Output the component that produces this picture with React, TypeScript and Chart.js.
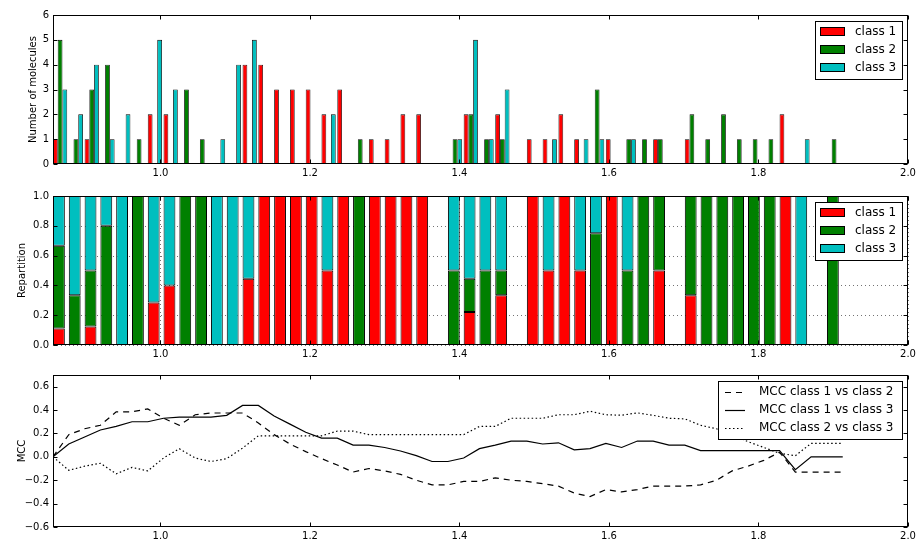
import React, { useEffect, useRef } from 'react';
import { Chart, registerables } from 'chart.js';

Chart.register(...registerables);

// ---------------- data ----------------
const binEdges = [
  0.8562, 0.8773, 0.8985, 0.9196, 0.9407, 0.9619, 0.983, 1.0041, 1.0252, 1.0464,
  1.0675, 1.0886, 1.1098, 1.1309, 1.152, 1.1732, 1.1943, 1.2154, 1.2365, 1.2577,
  1.2788, 1.2999, 1.3211, 1.3422, 1.3633, 1.3845, 1.4056, 1.4267, 1.4478, 1.469,
  1.4901, 1.5112, 1.5324, 1.5535, 1.5746, 1.5958, 1.6169, 1.638, 1.6591, 1.6803,
  1.7014, 1.7225, 1.7437, 1.7648, 1.7859, 1.8071, 1.8282, 1.8493, 1.8704, 1.8916,
  1.9127,
];

const class1Counts = [
  1, 0, 1, 0, 0, 0, 2, 2, 0, 0,
  0, 0, 4, 4, 3, 3, 3, 2, 3, 0,
  1, 1, 2, 2, 0, 0, 2, 0, 2, 0,
  1, 1, 2, 1, 0, 1, 0, 0, 1, 0,
  1, 0, 0, 0, 0, 0, 2, 0, 0, 0,
];
const class2Counts = [
  5, 1, 3, 4, 0, 1, 0, 0, 3, 1,
  0, 0, 0, 0, 0, 0, 0, 0, 0, 1,
  0, 0, 0, 0, 0, 1, 2, 1, 1, 0,
  0, 0, 0, 0, 3, 0, 1, 1, 1, 0,
  2, 1, 2, 1, 1, 1, 0, 0, 0, 1,
];
const class3Counts = [
  3, 2, 4, 1, 2, 0, 5, 3, 0, 0,
  1, 4, 5, 0, 0, 0, 0, 2, 0, 0,
  0, 0, 0, 0, 0, 1, 5, 1, 3, 0,
  0, 1, 0, 1, 1, 0, 1, 0, 0, 0,
  0, 0, 0, 0, 0, 0, 0, 1, 0, 0,
];

const mcc12 = [
  0, 0.19, 0.24, 0.27, 0.385, 0.385, 0.41, 0.33, 0.27, 0.36,
  0.375, 0.375, 0.375, 0.29, 0.19, 0.11, 0.045, -0.015, -0.07, -0.13,
  -0.1, -0.12, -0.15, -0.2, -0.24, -0.24, -0.21, -0.21, -0.18, -0.2,
  -0.21, -0.23, -0.25, -0.31, -0.34, -0.28, -0.3, -0.28, -0.25, -0.25,
  -0.25, -0.24, -0.2, -0.12, -0.08, -0.03, 0.04, -0.13, -0.13, -0.13,
  -0.13,
];
const mcc13 = [
  0, 0.11, 0.17, 0.23, 0.26, 0.3, 0.3, 0.33, 0.34, 0.34,
  0.34, 0.355, 0.44, 0.44, 0.35, 0.28, 0.21, 0.16, 0.16, 0.1,
  0.1, 0.08, 0.05, 0.01, -0.04, -0.04, -0.01, 0.07, 0.1, 0.135,
  0.135, 0.11, 0.12, 0.06, 0.07, 0.115, 0.08, 0.135, 0.135, 0.1,
  0.1, 0.053, 0.053, 0.053, 0.053, 0.053, 0.053, -0.11, 0, 0,
  0,
];
const mcc23 = [
  0, -0.115, -0.08, -0.055, -0.145, -0.09, -0.12, -0.01, 0.07, -0.01,
  -0.04, -0.015, 0.075, 0.18, 0.18, 0.18, 0.18, 0.18, 0.22, 0.22,
  0.19, 0.19, 0.19, 0.19, 0.19, 0.19, 0.19, 0.26, 0.26, 0.33,
  0.33, 0.33, 0.36, 0.36, 0.39, 0.36, 0.356, 0.376, 0.355, 0.33,
  0.325, 0.27, 0.24, 0.19, 0.13, 0.08, 0.03, 0.01, 0.115, 0.115,
  0.115,
];

const classLabels = ['class 1', 'class 2', 'class 3'];
const mccLabels = ['MCC class 1 vs class 2', 'MCC class 1 vs class 3', 'MCC class 2 vs class 3'];

const xTicks = [1.0, 1.2, 1.4, 1.6, 1.8, 2.0];
const countTicks = [0, 1, 2, 3, 4, 5, 6];
const fracTicks = [0, 0.2, 0.4, 0.6, 0.8, 1.0];
const mccTicks = [-0.6, -0.4, -0.2, 0, 0.2, 0.4, 0.6];

const X_MIN = 0.8562;
const X_MAX = 2.0;

// ---------------- styles ----------------
const RED = '#ff0000';
const GREEN = '#008000';
const CYAN = '#00bfbf';
const FONT = '"DejaVu Sans", "Bitstream Vera Sans", sans-serif';
const W = 917;

const fmt1 = (v: number) => {
  const s = Math.abs(v).toFixed(1);
  return v < -1e-9 ? '\u2212' + s : s;
};

// matplotlib-like axes decorations: grid, frame, inward ticks, boxed legend
const mplPlugin = {
  id: 'mpl',
  beforeDatasetsDraw(chart: any, _args: any, opts: any) {
    if (!opts || !opts.grid) return;
    const { ctx, chartArea: a, scales } = chart;
    const x = scales.x;
    const y = scales.y;
    ctx.save();
    ctx.strokeStyle = 'rgba(0,0,0,0.55)';
    ctx.lineWidth = 1;
    ctx.setLineDash([1, 3]);
    y.ticks.forEach((t: any) => {
      const py = Math.round(y.getPixelForValue(t.value)) + 0.5;
      ctx.beginPath();
      ctx.moveTo(a.left, py);
      ctx.lineTo(a.right, py);
      ctx.stroke();
    });
    x.ticks.forEach((t: any) => {
      const px = Math.round(x.getPixelForValue(t.value)) + 0.5;
      ctx.beginPath();
      ctx.moveTo(px, a.top);
      ctx.lineTo(px, a.bottom);
      ctx.stroke();
    });
    ctx.restore();
  },
  afterDraw(chart: any, _args: any, opts: any) {
    const { ctx, chartArea: a, scales } = chart;
    const x = scales.x;
    const y = scales.y;
    const L = Math.round(a.left) + 0.5;
    const R = Math.round(a.right) - 0.5;
    const T = Math.round(a.top) + 0.5;
    const B = Math.round(a.bottom) - 0.5;
    ctx.save();
    ctx.strokeStyle = '#000';
    ctx.lineWidth = 1;
    ctx.setLineDash([]);
    const tl = 4;
    x.ticks.forEach((t: any) => {
      const px = Math.round(x.getPixelForValue(t.value)) + 0.5;
      ctx.beginPath();
      ctx.moveTo(px, B);
      ctx.lineTo(px, B - tl);
      ctx.moveTo(px, T);
      ctx.lineTo(px, T + tl);
      ctx.stroke();
    });
    y.ticks.forEach((t: any) => {
      const py = Math.round(y.getPixelForValue(t.value)) + 0.5;
      ctx.beginPath();
      ctx.moveTo(L, py);
      ctx.lineTo(L + tl, py);
      ctx.moveTo(R, py);
      ctx.lineTo(R - tl, py);
      ctx.stroke();
    });
    ctx.strokeRect(L, T, R - L, B - T);

    if (opts && opts.legend) {
      const kind = opts.legend;
      const ds = chart.data.datasets;
      ctx.font = `12px ${FONT}`;
      const tw = Math.max(...ds.map((d: any) => ctx.measureText(d.label).width));
      const lay = kind === 'bar'
        ? { pl: 5, h: 25, g: 10, pr: 6 }
        : { pl: 7, h: 20, g: 14, pr: 9 };
      const w = Math.round(lay.pl + lay.h + lay.g + tw + lay.pr);
      const right = Math.round(a.right) - 6;
      const left = right - w;
      const top = Math.round(a.top) + 6;
      const h = 58;
      ctx.fillStyle = '#fff';
      ctx.fillRect(left, top, w, h);
      ctx.strokeStyle = '#000';
      ctx.lineWidth = 1;
      ctx.strokeRect(left + 0.5, top + 0.5, w, h);
      ds.forEach((d: any, i: number) => {
        const cy = top + 10.5 + 18 * i;
        const hx = left + lay.pl;
        if (kind === 'bar') {
          ctx.fillStyle = d.backgroundColor;
          ctx.fillRect(hx, Math.round(cy - 4.5), lay.h, 9);
          ctx.strokeStyle = '#000';
          ctx.lineWidth = 1;
          ctx.strokeRect(hx + 0.5, Math.round(cy - 4.5) + 0.5, lay.h - 1, 8);
        } else {
          ctx.strokeStyle = d.borderColor;
          ctx.lineWidth = d.borderWidth;
          ctx.setLineDash(d.borderDash || []);
          ctx.beginPath();
          ctx.moveTo(hx, Math.round(cy) + 0.5);
          ctx.lineTo(hx + lay.h, Math.round(cy) + 0.5);
          ctx.stroke();
          ctx.setLineDash([]);
        }
        ctx.fillStyle = '#000';
        ctx.textAlign = 'left';
        ctx.textBaseline = 'middle';
        ctx.fillText(d.label, hx + lay.h + lay.g, cy + 0.5);
      });
    }
    ctx.restore();
  },
};

function xScale(height: number, stacked: boolean) {
  return {
    type: 'linear',
    min: X_MIN,
    max: X_MAX,
    offset: false,
    stacked,
    grid: { display: false, drawTicks: false, offset: false },
    border: { display: false },
    ticks: {
      font: { family: FONT, size: 10 },
      color: '#000',
      padding: 3,
      maxRotation: 0,
      minRotation: 0,
      autoSkip: false,
      callback: (v: any) => fmt1(Number(v)),
    },
    afterBuildTicks: (s: any) => {
      s.ticks = xTicks.map((v) => ({ value: v }));
    },
    afterFit: (s: any) => {
      s.height = height;
      s.paddingLeft = 0;
      s.paddingRight = 0;
    },
  };
}

function yScale(min: number, max: number, ticks: number[], title: string, titlePad: number, stacked: boolean, fmt: (v: number) => string) {
  return {
    type: 'linear',
    min,
    max,
    stacked,
    grid: { display: false, drawTicks: false },
    border: { display: false },
    ticks: {
      font: { family: FONT, size: 10 },
      color: '#000',
      padding: 4,
      autoSkip: false,
      callback: (v: any) => fmt(Number(v)),
    },
    title: {
      display: true,
      text: title,
      color: '#000',
      font: { family: FONT, size: 10 },
      padding: { top: titlePad, bottom: 0 },
    },
    afterBuildTicks: (s: any) => {
      s.ticks = ticks.map((v) => ({ value: v }));
    },
    afterFit: (s: any) => {
      s.width = 53;
      s.paddingTop = 0;
      s.paddingBottom = 0;
    },
  };
}

const common = {
  responsive: false,
  maintainAspectRatio: false,
  animation: false,
  events: [],
};

function topConfig(): any {
  const centers = binEdges.slice(0, -1).map((e, i) => e + (binEdges[i + 1] - e) * 0.45);
  const mk = (counts: number[]) => counts.map((c, i) => ({ x: centers[i], y: c > 0 ? c : null }));
  const colors = [RED, GREEN, CYAN];
  const series = [class1Counts, class2Counts, class3Counts];
  return {
    type: 'bar',
    data: {
      datasets: series.map((s, k) => ({
        label: classLabels[k],
        data: mk(s),
        backgroundColor: colors[k],
        borderColor: '#000',
        borderWidth: 0.8,
        borderSkipped: false,
        categoryPercentage: 0.9,
        barPercentage: 1.0,
      })),
    },
    options: {
      ...common,
      layout: { padding: { top: 15, right: 9, left: 0, bottom: 0 } },
      scales: {
        x: xScale(21, false),
        y: yScale(0, 6, countTicks, 'Number of molecules', 27, false, (v) => String(Math.round(v))),
      },
      plugins: { legend: { display: false }, tooltip: { enabled: false }, mpl: { grid: false, legend: 'bar' } },
    },
    plugins: [mplPlugin],
  };
}

function midConfig(): any {
  const centers = binEdges.slice(0, -1).map((e, i) => e + (binEdges[i + 1] - e) * 0.375);
  const totals = class1Counts.map((c, i) => c + class2Counts[i] + class3Counts[i]);
  const mk = (counts: number[]) =>
    counts.map((c, i) => ({ x: centers[i], y: totals[i] > 0 && c > 0 ? c / totals[i] : null }));
  const colors = [RED, GREEN, CYAN];
  const series = [class1Counts, class2Counts, class3Counts];
  return {
    type: 'bar',
    data: {
      datasets: series.map((s, k) => ({
        label: classLabels[k],
        data: mk(s),
        backgroundColor: colors[k],
        borderColor: '#000',
        borderWidth: 1,
        borderSkipped: false,
        categoryPercentage: 0.75,
        barPercentage: 1.0,
      })),
    },
    options: {
      ...common,
      layout: { padding: { top: 11, right: 9, left: 0, bottom: 0 } },
      scales: {
        x: xScale(20, true),
        y: yScale(0, 1, fracTicks, 'Repartition', 16, true, fmt1),
      },
      plugins: { legend: { display: false }, tooltip: { enabled: false }, mpl: { grid: true, legend: 'bar' } },
    },
    plugins: [mplPlugin],
  };
}

function botConfig(): any {
  const mk = (vals: number[]) => vals.map((v, i) => ({ x: binEdges[i], y: v }));
  const dashes = [[6, 5], [], [1.5, 2.5]];
  const series = [mcc12, mcc13, mcc23];
  return {
    type: 'line',
    data: {
      datasets: series.map((s, k) => ({
        label: mccLabels[k],
        data: mk(s),
        borderColor: '#000',
        backgroundColor: '#000',
        borderWidth: 1.2,
        borderDash: dashes[k],
        pointRadius: 0,
        tension: 0,
        fill: false,
      })),
    },
    options: {
      ...common,
      layout: { padding: { top: 10, right: 9, left: 0, bottom: 0 } },
      scales: {
        x: xScale(12, false),
        y: yScale(-0.6, 0.7, mccTicks, 'MCC', 16, false, fmt1),
      },
      plugins: { legend: { display: false }, tooltip: { enabled: false }, mpl: { grid: false, legend: 'line' } },
    },
    plugins: [mplPlugin],
  };
}

export default function App() {
  const r1 = useRef<HTMLCanvasElement>(null);
  const r2 = useRef<HTMLCanvasElement>(null);
  const r3 = useRef<HTMLCanvasElement>(null);

  useEffect(() => {
    const charts = [
      new Chart(r1.current as HTMLCanvasElement, topConfig()),
      new Chart(r2.current as HTMLCanvasElement, midConfig()),
      new Chart(r3.current as HTMLCanvasElement, botConfig()),
    ];
    return () => charts.forEach((c) => c.destroy());
  }, []);

  const cs = (top: number, h: number): React.CSSProperties => ({
    position: 'absolute',
    left: 0,
    top,
    width: W,
    height: h,
    display: 'block',
  });

  return (
    <div style={{ position: 'absolute', left: 0, top: 0, width: W, height: 539, background: '#fff', overflow: 'hidden' }}>
      <canvas ref={r1} width={W} height={185} style={cs(0, 185)} />
      <canvas ref={r2} width={W} height={180} style={cs(185, 180)} />
      <canvas ref={r3} width={W} height={174} style={cs(365, 174)} />
    </div>
  );
}
